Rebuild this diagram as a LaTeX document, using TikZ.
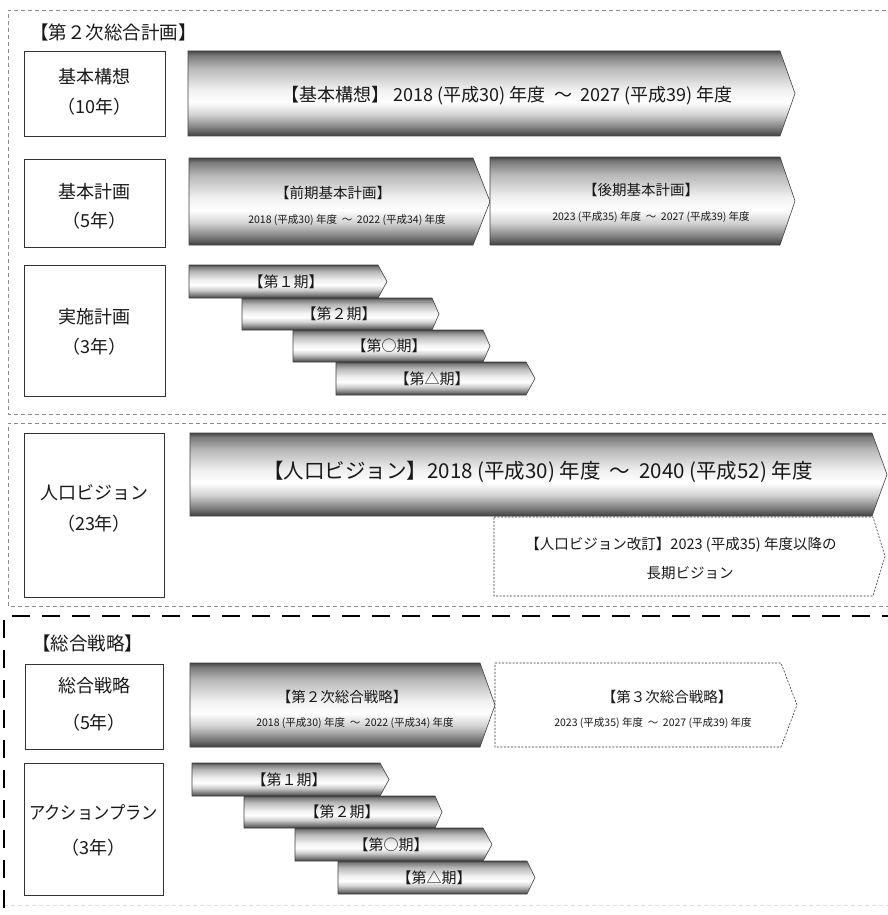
\documentclass[tikz,border=0pt]{standalone}
\usepackage{fontspec}
\setmainfont{Noto Sans CJK JP}
\pgfdeclareverticalshading{metalgrad}{100bp}{color(0bp)=(black!75); color(25bp)=(black!75); color(30bp)=(black!50); color(37.5bp)=(black!18); color(45bp)=(white); color(52.5bp)=(black!6); color(65bp)=(black!28); color(72.5bp)=(black!52); color(75bp)=(black!72); color(100bp)=(black!72)}
\newcommand\fsz[1]{\fontsize{#1}{#1}\selectfont}
\newcommand\arr[6]{\path[#1] (#2,#5) -- (#3,#5) -- (#4,{(#5+#6)/2}) -- (#3,#6) -- (#2,#6) -- cycle;}
\tikzset{
  lblbox/.style={draw=black!80, line width=0.7pt, fill=white, inner sep=0pt},
  metalarrow/.style={shading=metalgrad, draw=black!75, line width=0.6pt},
  dasharrow/.style={draw=black!80, line width=0.6pt, dash pattern=on 2pt off 1.5pt, fill=white},
  thinframe/.style={draw=black!45, line width=0.6pt, dash pattern=on 4pt off 3pt},
  faintframe/.style={draw=black!12, line width=0.8pt, dash pattern=on 4pt off 3pt},
  boldframe/.style={draw=black, line width=2.8pt, dash pattern=on 18pt off 12pt},
  txt/.style={text=black!90, inner sep=0pt, align=center},
  boxtxt/.style={txt, font=\fsz{18}},
  grptxt/.style={txt, font=\fsz{18.5}, anchor=west},
  periodtxt/.style={txt, font=\fsz{15}},
  midtitle/.style={txt, font=\fsz{14.5}},
  datetxt/.style={txt, font=\fsz{10.5}},
}
\begin{document}
\begin{tikzpicture}[x=1pt,y=-1pt]
\useasboundingbox (0,0) rectangle (888,915);
\clip (0,0) rectangle (888,915);
% frames
\draw[thinframe] (900,10) -- (8,10) -- (8,414) -- (900,414);
\draw[thinframe] (900,423) -- (8,423) -- (8,606) -- (900,606);
\draw[faintframe] (4,905) -- (900,905);
\draw[boldframe] (900,616) -- (4,616) -- (4,925);

% ===== 第2次総合計画 =====
\node[grptxt] (g1) at (30,32) {【第２次総合計画】};

\node[lblbox, minimum width=141pt, minimum height=85pt] (b1) at (94.5,93.5) {};
\node[boxtxt] (b1a) at (94.5,77) {基本構想};
\node[boxtxt] (b1b) at (94.5,107) {（10年）};

\node[lblbox, minimum width=141pt, minimum height=88pt] (b2) at (94.5,203) {};
\node[boxtxt] (b2a) at (94.5,192) {基本計画};
\node[boxtxt] (b2b) at (94.5,221) {（5年）};

\node[lblbox, minimum width=141pt, minimum height=131pt] (b3) at (94.5,330.5) {};
\node[boxtxt] (b3a) at (94.5,317) {実施計画};
\node[boxtxt] (b3b) at (94.5,347) {（3年）};

\arr{metalarrow}{188}{780}{795}{51}{136}
\node[txt, font=\fsz{18}] (t1) at (507,96) {【基本構想】 2018 (平成30) 年度 \ ～ \ 2027 (平成39) 年度};

\arr{metalarrow}{189}{473}{490}{158}{245}
\node[midtitle] (t2a) at (333,193) {【前期基本計画】};
\node[datetxt] (t2b) at (347,220) {2018 (平成30) 年度 \ ～ \ 2022 (平成34) 年度};

\arr{metalarrow}{490}{780}{795}{157}{245}
\node[midtitle] (t3a) at (641,190) {【後期基本計画】};
\node[datetxt] (t3b) at (651,217) {2023 (平成35) 年度 \ ～ \ 2027 (平成39) 年度};

\arr{metalarrow}{189}{378}{387}{265}{298}
\node[periodtxt] (p1) at (286,281.5) {【第１期】};
\arr{metalarrow}{242}{432}{439}{298}{330}
\node[periodtxt] (p2) at (339,314) {【第２期】};
\arr{metalarrow}{293}{483}{490}{330}{362}
\node[periodtxt] (p3) at (389,346) {【第○期】};
\arr{metalarrow}{336}{526}{535}{362}{395}
\node[periodtxt] (p4) at (432,378.5) {【第△期】};

% ===== 人口ビジョン =====
\node[lblbox, minimum width=140pt, minimum height=164pt] (b4) at (94,515) {};
\node[boxtxt] (b4a) at (94,493) {人口ビジョン};
\node[boxtxt] (b4b) at (94,524) {（23年）};

\arr{metalarrow}{190}{872}{887}{433}{516}
\node[txt, font=\fsz{20.5}] (t4) at (538,472) {【人口ビジョン】2018 (平成30) 年度 \ ～ \ 2040 (平成52) 年度};

\arr{dasharrow}{494}{873}{885}{517}{596}
\node[txt, font=\fsz{14.5}] (t5a) at (681,545) {【人口ビジョン改訂】2023 (平成35) 年度以降の};
\node[txt, font=\fsz{14.5}] (t5b) at (690,573) {長期ビジョン};

% ===== 総合戦略 =====
\node[grptxt] (g2) at (32,643) {【総合戦略】};

\node[lblbox, minimum width=138pt, minimum height=85pt] (b5) at (94,706.5) {};
\node[boxtxt] (b5a) at (94,686) {総合戦略};
\node[boxtxt] (b5b) at (94,723) {（5年）};

\arr{metalarrow}{190}{480}{495}{663}{747}
\node[midtitle] (t6a) at (342,697) {【第２次総合戦略】};
\node[datetxt] (t6b) at (355,723) {2018 (平成30) 年度 \ ～ \ 2022 (平成34) 年度};

\arr{dasharrow}{495}{781}{797}{663}{747}
\node[midtitle] (t7a) at (667,697) {【第３次総合戦略】};
\node[datetxt] (t7b) at (653,723) {2023 (平成35) 年度 \ ～ \ 2027 (平成39) 年度};

\node[lblbox, minimum width=139pt, minimum height=132pt] (b6) at (93.5,829) {};
\node[boxtxt] (b6a) at (93.5,813) {\scalebox{0.9}[1]{アクションプラン}};
\node[boxtxt] (b6b) at (93.5,848) {（3年）};

\arr{metalarrow}{192}{380}{389}{763}{796}
\node[periodtxt] (q1) at (289,779.5) {【第１期】};
\arr{metalarrow}{244}{435}{442}{796}{828}
\node[periodtxt] (q2) at (342,812) {【第２期】};
\arr{metalarrow}{295}{483}{492}{828}{861}
\node[periodtxt] (q3) at (391,844.5) {【第○期】};
\arr{metalarrow}{338}{527}{535}{861}{894}
\node[periodtxt] (q4) at (434,877.5) {【第△期】};
\end{tikzpicture}
\end{document}
